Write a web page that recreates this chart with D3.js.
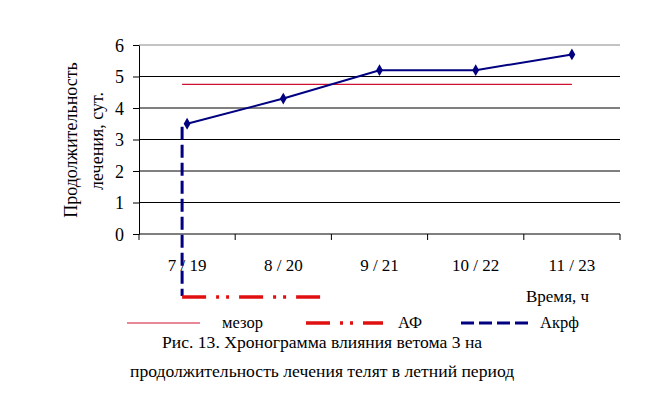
<!DOCTYPE html>
<meta charset="utf-8">
<style>
body { margin: 0; background: #fff; }
svg text { font-family: "Liberation Serif", "Times New Roman", Times, "DejaVu Serif", serif; fill: #000; }
.axis path, .axis line { stroke: #000; }
</style>
<svg width="648" height="397"></svg>
<script src="https://d3js.org/d3.v7.min.js"></script>
<script>
var categories = ["7 / 19", "8 / 20", "9 / 21", "10 / 22", "11 / 23"];
var values = [3.5, 4.3, 5.2, 5.2, 5.7];
var mesor = 4.75;
var yTicks = [0, 1, 2, 3, 4, 5, 6];
var serif = "'Liberation Serif', 'Times New Roman', Times, 'DejaVu Serif', serif";

var svg = d3.select("svg"),
    margin = {top: 45, right: 28, bottom: 163, left: 139},
    width = +svg.attr("width") - margin.left - margin.right,
    height = +svg.attr("height") - margin.top - margin.bottom,
    g = svg.append("g").attr("transform", "translate(" + margin.left + "," + margin.top + ")");

var x = d3.scaleBand().domain(categories).range([0, width]);
var y = d3.scaleLinear().domain([0, 6]).range([height, 0]);

// gridlines
g.append("g")
  .selectAll("line").data(yTicks.filter(function(d) { return d > 0; }))
  .enter().append("line")
    .attr("x1", 0).attr("x2", width)
    .attr("y1", function(d) { return y(d); })
    .attr("y2", function(d) { return y(d); })
    .style("stroke", function(d) { return d === 6 ? "#888" : "#000"; });

// x axis line + ticks at band edges
g.append("line").attr("x1", 0).attr("x2", width)
    .attr("y1", height).attr("y2", height).style("stroke", "#000");
var edges = d3.range(categories.length + 1).map(function(i) { return i * x.bandwidth(); });
g.append("g").selectAll("line").data(edges).enter().append("line")
    .attr("x1", function(d) { return d; }).attr("x2", function(d) { return d; })
    .attr("y1", height).attr("y2", height + 6)
    .style("stroke", "#000");

g.append("g").selectAll("text").data(categories).enter().append("text")
    .attr("x", function(d) { return x(d) + x.bandwidth() / 2; })
    .attr("y", height + 37)
    .attr("text-anchor", "middle")
    .style("font-family", serif)
    .style("font-size", "17px")
    .text(function(d) { return d; });

g.append("g")
    .attr("class", "axis")
    .call(d3.axisLeft(y).tickValues(yTicks).tickFormat(d3.format("d"))
      .tickSize(6).tickSizeOuter(0).tickPadding(9))
    .call(function(a) {
      a.attr("font-family", null);
      a.selectAll("text").style("font-family", serif).style("font-size", "18px").attr("dy", "0.34em");
    });

// mesor
var ax = x(categories[0]) + x.bandwidth() / 2 - 5;
g.append("line")
    .attr("x1", ax)
    .attr("x2", x(categories[4]) + x.bandwidth() / 2)
    .attr("y1", y(mesor)).attr("y2", y(mesor))
    .style("stroke", "#d01030").style("stroke-width", 1.2);

// acrophase markers
g.append("line")
    .attr("x1", ax).attr("x2", ax)
    .attr("y1", y(values[0]) + 3).attr("y2", height + 62)
    .style("stroke", "#000080").style("stroke-width", 3)
    .style("stroke-dasharray", "13,5");
g.append("line")
    .attr("x1", ax).attr("x2", ax + 138)
    .attr("y1", height + 63).attr("y2", height + 63)
    .style("stroke", "#e01010").style("stroke-width", 3.5)
    .style("stroke-dasharray", "24,10,3,7,3,10");

var line = d3.line()
    .x(function(d, i) { return x(categories[i]) + x.bandwidth() / 2; })
    .y(function(d) { return y(d); });

g.append("path").datum(values)
    .attr("d", line)
    .style("fill", "none").style("stroke", "#000080").style("stroke-width", 2);

g.append("g").selectAll("path").data(values).enter().append("path")
    .attr("d", d3.symbol().type(d3.symbolDiamond).size(40))
    .attr("transform", function(d, i) {
      return "translate(" + (x(categories[i]) + x.bandwidth() / 2) + "," + y(d) + ")";
    })
    .style("fill", "#000080");

// axis titles
svg.append("text")
    .attr("transform", "translate(77,140) rotate(-90)")
    .attr("text-anchor", "middle")
    .style("font-family", serif)
    .style("font-size", "18px")
    .text("Продолжительность");
svg.append("text")
    .attr("transform", "translate(103,141) rotate(-90)")
    .attr("text-anchor", "middle")
    .style("font-family", serif)
    .style("font-size", "18px")
    .text("лечения, сут.");
svg.append("text")
    .attr("x", 589).attr("y", 302)
    .attr("text-anchor", "end")
    .style("font-family", serif)
    .style("font-size", "17px")
    .text("Время, ч");

// legend
var legend = [
  {name: "мезор", x: 127, color: "#d01030", w: 1.2, dash: null, len: 73, tx: 222},
  {name: "АФ", x: 306, color: "#e01010", w: 3.5, dash: "24,10,3,7,3,10", len: 77, tx: 398},
  {name: "Акрф", x: 461, color: "#000080", w: 3, dash: "13,5", len: 70, tx: 540}
];
legend.forEach(function(l) {
  svg.append("line")
      .attr("x1", l.x).attr("x2", l.x + l.len)
      .attr("y1", 323).attr("y2", 323)
      .style("stroke", l.color).style("stroke-width", l.w)
      .style("stroke-dasharray", l.dash);
  svg.append("text")
      .attr("x", l.tx).attr("y", 328)
      .style("font-family", serif)
      .style("font-size", "16.5px")
      .text(l.name);
});

// caption
svg.append("text")
    .attr("x", 162).attr("y", 348)
    .style("font-family", serif)
    .style("font-size", "17.6px")
    .text("Рис. 13. Хронограмма влияния ветома 3 на");
svg.append("text")
    .attr("x", 130).attr("y", 377)
    .style("font-family", serif)
    .style("font-size", "17.6px")
    .text("продолжительность лечения телят в летний период");
</script>
